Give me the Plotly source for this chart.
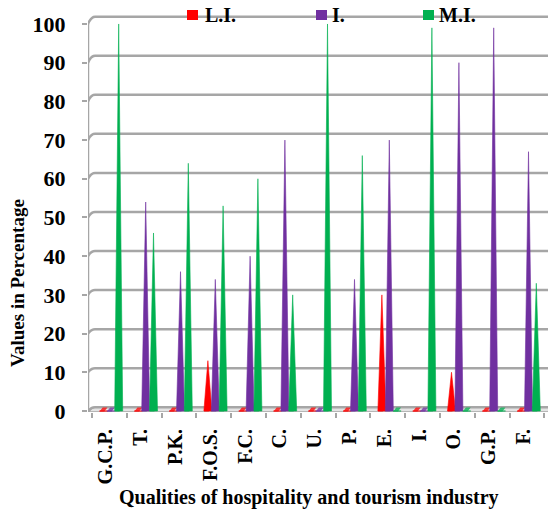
import plotly.graph_objects as go

# ---- data -------------------------------------------------------------
categories = ["G.C.P.", "T.", "P.K.", "F.O.S.", "F.C.", "C.", "U.", "P.",
              "E.", "I.", "O.", "G.P.", "F."]
series_names = ["L.I.", "I.", "M.I."]
li_values = [0, 0, 0, 13, 0, 0, 0, 0, 30, 0, 10, 0, 0]
i_values = [0, 54, 36, 34, 40, 70, 0, 34, 70, 0, 90, 99, 67]
mi_values = [100, 46, 64, 53, 60, 30, 100, 66, 0, 99, 0, 0, 33]
y_ticks = list(range(0, 101, 10))

# ---- style ------------------------------------------------------------
W, H = 548, 512
M_L, M_R, M_T, M_B = 88, 0, 8, 100
colors = ["#FF0000", "#7030A0", "#00B050"]
offsets = [-0.17, 0.043, 0.267]      # position of each series inside a category
half_w = 0.115                      # half width of a spike base
grid_col = "#A6A6A6"
FONT = "Liberation Serif"

x_range = [-0.615, 12.603]
y_range = [-0.26, 104.13]
plot_w = W - M_L - M_R
plot_h = H - M_T - M_B
px_per_x = plot_w / (x_range[1] - x_range[0])
px_per_y = plot_h / (y_range[1] - y_range[0])


def x_from_px(dx):
    """data-x distance for a horizontal pixel distance"""
    return dx / px_per_x


def back_wall(v):
    """value on the front scale where the back-wall line for v lies"""
    return 0.956 + 1.0093 * v


fig = go.Figure()

# floor of the 3-D plot area
floor_back = back_wall(0)
fig.add_shape(type="path",
              path=(f"M {x_range[0]},{y_range[0]} L {x_range[0] + x_from_px(5)},{floor_back} "
                    f"L 14,{floor_back} L 14,{y_range[0]} Z"),
              xref="x", yref="y", fillcolor="#E4E4E4",
              line=dict(color=grid_col, width=1.5), layer="below")

# back-wall gridlines with the short side-wall connector
for v in y_ticks:
    xb = x_range[0] + x_from_px(7)
    fig.add_shape(type="path",
                  path=f"M {x_range[0]},{v} Q {x_range[0] + x_from_px(3)},{back_wall(v)} {xb},{back_wall(v)} L 14,{back_wall(v)}",
                  xref="x", yref="y", line=dict(color=grid_col, width=2.5), layer="below")

# front vertical axis line
fig.add_shape(type="line", x0=x_range[0], x1=x_range[0], y0=y_range[0], y1=100,
              xref="x", yref="y", line=dict(color=grid_col, width=2.5), layer="below")

# spikes (cones seen from the front): one triangle per value, plus a flat base
series_values = [li_values, i_values, mi_values]
for name, vals, col, off in zip(series_names, series_values, colors, offsets):
    xs, ys = [], []
    bx, by = [], []
    for i, v in enumerate(vals):
        c = i + off
        xs += [c - half_w, c, c + half_w, c - half_w, None]
        ys += [0, v, 0, 0, None]
        bx += [c - half_w, c + half_w * 0.2, c + half_w, c - half_w * 0.2, c - half_w, None]
        by += [-0.1, -0.1, 0.9, 0.9, -0.1, None]
    fig.add_trace(go.Scatter(x=bx, y=by, mode="lines", fill="toself",
                             fillcolor=col, line=dict(width=0, color=col),
                             opacity=0.75, showlegend=False, hoverinfo="skip"))
    fig.add_trace(go.Scatter(x=xs, y=ys, mode="lines", fill="toself",
                             fillcolor=col, line=dict(width=0.6, color=col),
                             name=name, showlegend=False, hoverinfo="skip"))

# invisible trace so the boundary-tick axis is drawn
fig.add_trace(go.Scatter(x=[0], y=[0], xaxis="x2", mode="markers",
                         marker=dict(opacity=0), showlegend=False, hoverinfo="skip"))

# legend drawn along the top gridline
legend_pos = [(187, 203), (316, 330), (423, 437)]
for name, col, (sq, tx) in zip(series_names, colors, legend_pos):
    fig.add_shape(type="rect", xref="paper", yref="paper",
                  x0=(sq - M_L) / plot_w, x1=(sq + 11 - M_L) / plot_w,
                  y0=(M_T + plot_h - 20) / plot_h, y1=(M_T + plot_h - 10) / plot_h,
                  fillcolor=col, line=dict(width=0))
    fig.add_annotation(text=name, xref="paper", yref="paper",
                       x=(tx - M_L) / plot_w, y=(M_T + plot_h - 15) / plot_h,
                       xanchor="left", yanchor="middle", showarrow=False,
                       font=dict(family=FONT, size=20, color="black", weight="bold"))

# axis titles
fig.add_annotation(text="Values in Percentage", xref="paper", yref="paper",
                   x=(17 - M_L) / plot_w, y=(M_T + plot_h - 283) / plot_h,
                   textangle=-90, showarrow=False, xanchor="center", yanchor="middle",
                   font=dict(family=FONT, size=19, color="black", weight="bold"))
fig.add_annotation(text="Qualities of hospitality and tourism industry",
                   xref="paper", yref="paper",
                   x=(309 - M_L) / plot_w, y=(M_T + plot_h - 497) / plot_h,
                   showarrow=False, xanchor="center", yanchor="middle",
                   font=dict(family=FONT, size=20, color="black", weight="bold"))

fig.update_layout(
    width=W, height=H,
    margin=dict(l=M_L, r=M_R, t=M_T, b=M_B),
    paper_bgcolor="white", plot_bgcolor="white",
    showlegend=False,
    xaxis=dict(range=x_range, tickmode="array",
               tickvals=[i - 0.1 for i in range(len(categories))],
               ticktext=categories, tickangle=-90, ticks="",
               ticklabelstandoff=12, showgrid=False, zeroline=False, showline=False,
               tickfont=dict(family=FONT, size=20, color="black", weight="bold")),
    xaxis2=dict(range=x_range, overlaying="x", anchor="y", side="bottom",
                tickmode="array",
                tickvals=[i - 0.5 for i in range(len(categories) + 1)],
                showticklabels=False, ticks="outside", ticklen=5, tickwidth=2,
                tickcolor=grid_col, showgrid=False, zeroline=False, showline=False),
    yaxis=dict(range=y_range, tickmode="array", tickvals=y_ticks,
               ticks="outside", ticklen=5, tickwidth=2, tickcolor=grid_col,
               ticklabelstandoff=12, showgrid=False, zeroline=False, showline=False,
               tickfont=dict(family=FONT, size=22, color="black", weight="bold")),
)

fig.write_html("out.html")
